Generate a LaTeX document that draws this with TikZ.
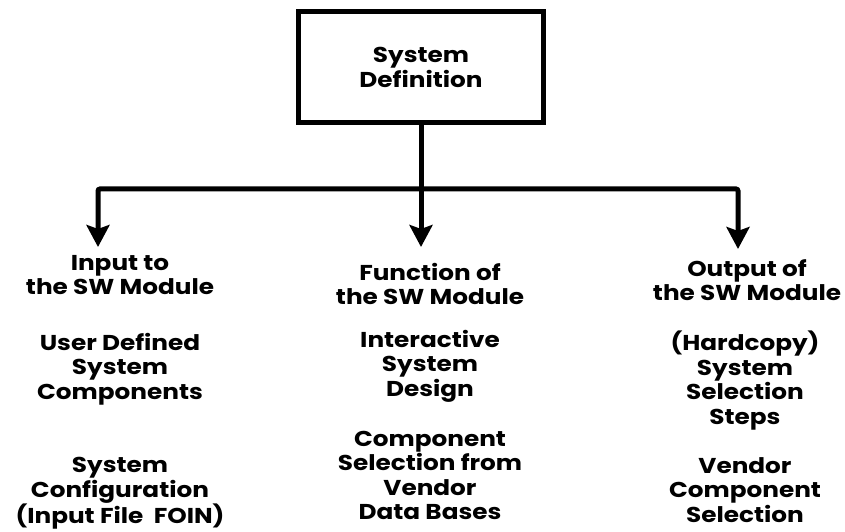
\documentclass[tikz,border=0pt]{standalone}
\usepackage{fontspec}
\setmainfont{Poppins}[FakeStretch=1.15]
\usetikzlibrary{arrows.meta}

\tikzset{
  flow/.style={line width=5pt, rounded corners=2pt,
    -{Stealth[length=22pt,width=23pt,inset=4pt]}},
  defbox/.style={draw, line width=5pt, minimum width=245pt, minimum height=111pt,
    align=center, font=\bfseries\fontsize{21.5}{25}\selectfont},
  txt/.style={anchor=north, inner sep=0pt, align=center,
    font=\bfseries\fontsize{21.5}{24.5}\selectfont}
}

\begin{document}
\begin{tikzpicture}[x=1pt, y=1pt]
    \useasboundingbox (0,0) rectangle (845,532);

    % Top box
    \node[defbox] (def) at (421,465) {System\\Definition};

    % Branch points and arrow ends
    \coordinate (lc) at (98,343);
    \coordinate (rc) at (738,343);
    \coordinate (mc) at (def.south |- lc);
    \coordinate (lt) at (98,285);
    \coordinate (mt) at (421,285);
    \coordinate (rt) at (738,283);

    \draw[flow] (def.south) -- (mt);
    \draw[flow] (mc) -- (lc) -- (lt);
    \draw[flow] (mc) -- (rc) -- (rt);

    % Input column
    \node[txt] (inA) at (120,277) {Input to\\the SW Module};
    \node[txt] (inB) at (120,199) {User Defined\\System\\Components};
    \node[txt] (inC) at (120,75) {System\\Configuration\\(Input File~~FOIN)};

    % Function column
    \node[txt] (fnA) at (430,269) {Function of\\the SW Module};
    \node[txt] (fnB) at (430,202) {Interactive\\System\\Design};
    \node[txt] (fnC) at (430,101) {Component\\Selection from\\Vendor\\Data Bases};

    % Output column
    \node[txt] (outA) at (747,273) {Output of\\the SW Module};
    \node[txt] (outB) at (745,201) {(Hardcopy)\\System\\Selection\\Steps};
    \node[txt] (outC) at (745,75) {Vendor\\Component\\Selection};
\end{tikzpicture}
\end{document}
